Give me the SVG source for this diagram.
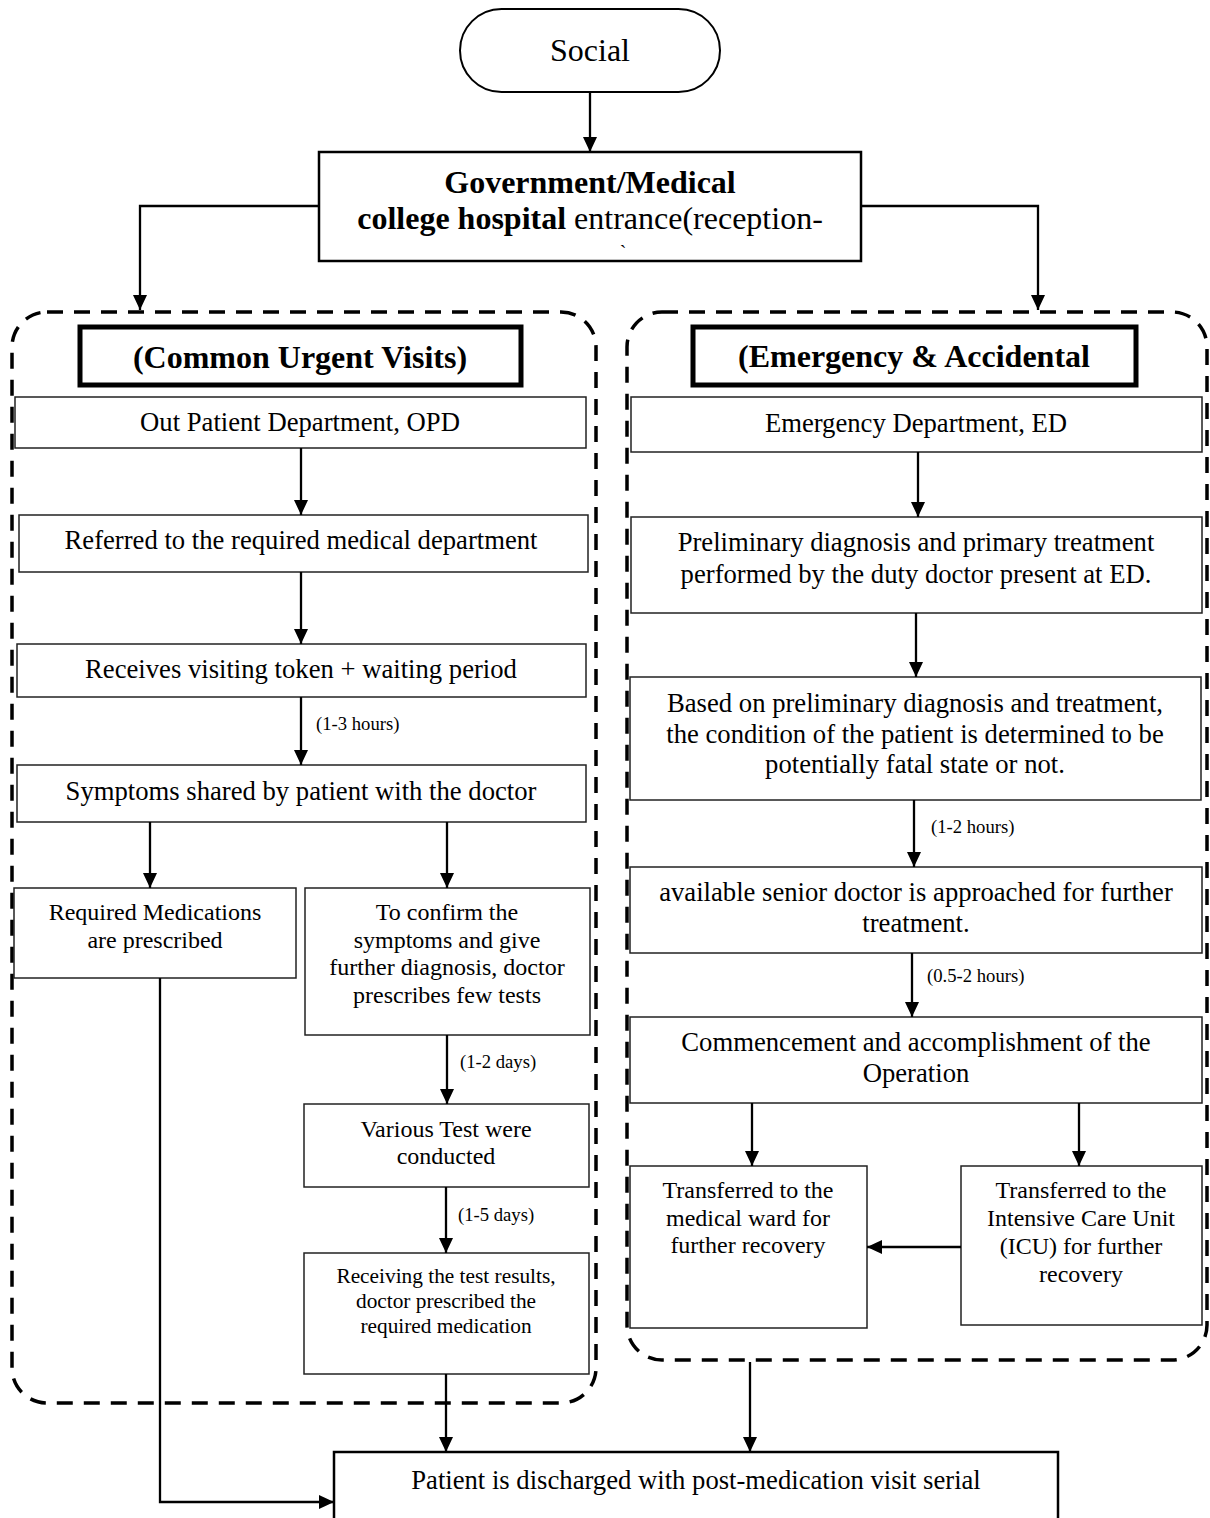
<svg xmlns="http://www.w3.org/2000/svg" width="1210" height="1518" viewBox="0 0 1210 1518">
<defs>
<style>
.box{fill:#fff;stroke:#222;stroke-width:1.5}
.t{font-family:"Liberation Serif","Times New Roman",serif;fill:#000;text-anchor:middle}
.f26{font-size:26.67px}
.f24{font-size:24px}
.f21{font-size:21.33px}
.f32{font-size:32px}
.bold{font-weight:bold}
.lbl{font-family:"Liberation Serif","Times New Roman",serif;font-size:18.67px;fill:#000;text-anchor:start}
.conn{stroke:#000;stroke-width:2.3;fill:none}
.dash{fill:none;stroke:#000;stroke-width:3.5;stroke-dasharray:16 11}
.hdr{fill:#fff;stroke:#000;stroke-width:5}
</style>
<marker id="arr" viewBox="0 0 15 14" refX="15" refY="7" markerWidth="15" markerHeight="14" markerUnits="userSpaceOnUse" orient="auto">
<path d="M0,0 L15,7 L0,14 z" fill="#000"/>
</marker>
</defs>
<rect width="1210" height="1518" fill="#fff"/>

<g id="containers">
<rect id="left-container" class="dash" x="12" y="312" width="584" height="1091" rx="35" ry="35"/>
<rect id="right-container" class="dash" x="627" y="312" width="580" height="1048" rx="35" ry="35"/>
</g>

<g id="social">
<rect x="460" y="9" width="260" height="83" rx="41.5" ry="41.5" fill="#fff" stroke="#000" stroke-width="2"/>
<text class="t f32" x="590" y="61">Social</text>
</g>

<g id="gov">
<rect x="319" y="152" width="542" height="109" fill="#fff" stroke="#000" stroke-width="2.5"/>
<text class="t f32 bold" x="590" y="193">Government/Medical</text>
<text class="t f32" x="590" y="229"><tspan font-weight="bold">college hospital</tspan> entrance(reception-</text>
<text class="t" x="623" y="260" font-size="20px">`</text>
</g>

<g id="hdr-left">
<rect class="hdr" x="80" y="327" width="441" height="58"/>
<text class="t f32 bold" x="300" y="368">(Common Urgent Visits)</text>
</g>
<g id="hdr-right">
<rect class="hdr" x="693" y="327" width="443" height="58"/>
<text class="t f32 bold" x="914" y="367">(Emergency &amp; Accidental</text>
</g>

<g id="opd">
<rect class="box" x="15" y="397" width="571" height="51"/>
<text class="t f26" x="300" y="431">Out Patient Department, OPD</text>
</g>
<g id="referred">
<rect class="box" x="19" y="515" width="569" height="57"/>
<text class="t f26" x="301" y="549">Referred to the required medical department</text>
</g>
<g id="token">
<rect class="box" x="17" y="644" width="569" height="53"/>
<text class="t f26" x="301" y="678">Receives visiting token + waiting period</text>
</g>
<g id="symptoms">
<rect class="box" x="17" y="765" width="569" height="57"/>
<text class="t f26" x="301" y="800">Symptoms shared by patient with the doctor</text>
</g>
<g id="medications">
<rect class="box" x="14" y="888" width="282" height="90"/>
<text class="t f24" x="155" y="920">Required Medications</text>
<text class="t f24" x="155" y="948">are prescribed</text>
</g>
<g id="confirm">
<rect class="box" x="305" y="888" width="285" height="147"/>
<text class="t f24" x="447" y="920">To confirm the</text>
<text class="t f24" x="447" y="948">symptoms and give</text>
<text class="t f24" x="447" y="975">further diagnosis, doctor</text>
<text class="t f24" x="447" y="1003">prescribes few tests</text>
</g>
<g id="tests">
<rect class="box" x="304" y="1104" width="285" height="83"/>
<text class="t f24" x="446" y="1137">Various Test were</text>
<text class="t f24" x="446" y="1164">conducted</text>
</g>
<g id="results">
<rect class="box" x="304" y="1253" width="285" height="121"/>
<text class="t f21" x="446" y="1283">Receiving the test results,</text>
<text class="t f21" x="446" y="1308">doctor prescribed the</text>
<text class="t f21" x="446" y="1333">required medication</text>
</g>

<g id="ed">
<rect class="box" x="631" y="397" width="571" height="55"/>
<text class="t f26" x="916" y="432">Emergency Department, ED</text>
</g>
<g id="preliminary">
<rect class="box" x="631" y="517" width="571" height="96"/>
<text class="t f26" x="916" y="551">Preliminary diagnosis and primary treatment</text>
<text class="t f26" x="916" y="583">performed by the duty doctor present at ED.</text>
</g>
<g id="based">
<rect class="box" x="630" y="677" width="571" height="123"/>
<text class="t f26" x="915" y="712">Based on preliminary diagnosis and treatment,</text>
<text class="t f26" x="915" y="743">the condition of the patient is determined to be</text>
<text class="t f26" x="915" y="773">potentially fatal state or not.</text>
</g>
<g id="senior">
<rect class="box" x="630" y="867" width="572" height="86"/>
<text class="t f26" x="916" y="901">available senior doctor is approached for further</text>
<text class="t f26" x="916" y="932">treatment.</text>
</g>
<g id="operation">
<rect class="box" x="630" y="1017" width="572" height="86"/>
<text class="t f26" x="916" y="1051">Commencement and accomplishment of the</text>
<text class="t f26" x="916" y="1082">Operation</text>
</g>
<g id="ward">
<rect class="box" x="630" y="1166" width="237" height="162"/>
<text class="t f24" x="748" y="1198">Transferred to the</text>
<text class="t f24" x="748" y="1226">medical ward for</text>
<text class="t f24" x="748" y="1253">further recovery</text>
</g>
<g id="icu">
<rect class="box" x="961" y="1166" width="241" height="159"/>
<text class="t f24" x="1081" y="1198">Transferred to the</text>
<text class="t f24" x="1081" y="1226">Intensive Care Unit</text>
<text class="t f24" x="1081" y="1254">(ICU) for further</text>
<text class="t f24" x="1081" y="1282">recovery</text>
</g>

<g id="discharge">
<rect x="334" y="1452" width="724" height="90" fill="#fff" stroke="#000" stroke-width="2.5"/>
<text class="t f26" x="696" y="1489">Patient is discharged with post-medication visit serial</text>
</g>

<g id="connectors">
<path class="conn" d="M590,92 L590,152" marker-end="url(#arr)"/>
<path class="conn" d="M319,206 L140,206 L140,310" marker-end="url(#arr)"/>
<path class="conn" d="M861,206 L1038,206 L1038,310" marker-end="url(#arr)"/>
<path class="conn" d="M301,448 L301,515" marker-end="url(#arr)"/>
<path class="conn" d="M301,572 L301,644" marker-end="url(#arr)"/>
<path class="conn" d="M301,697 L301,765" marker-end="url(#arr)"/>
<path class="conn" d="M150,822 L150,888" marker-end="url(#arr)"/>
<path class="conn" d="M447,822 L447,888" marker-end="url(#arr)"/>
<path class="conn" d="M447,1035 L447,1104" marker-end="url(#arr)"/>
<path class="conn" d="M446,1187 L446,1253" marker-end="url(#arr)"/>
<path class="conn" d="M446,1374 L446,1452" marker-end="url(#arr)"/>
<path class="conn" d="M160,978 L160,1502 L334,1502" marker-end="url(#arr)"/>
<path class="conn" d="M918,452 L918,517" marker-end="url(#arr)"/>
<path class="conn" d="M916,613 L916,677" marker-end="url(#arr)"/>
<path class="conn" d="M914,800 L914,867" marker-end="url(#arr)"/>
<path class="conn" d="M912,953 L912,1017" marker-end="url(#arr)"/>
<path class="conn" d="M752,1103 L752,1166" marker-end="url(#arr)"/>
<path class="conn" d="M1079,1103 L1079,1166" marker-end="url(#arr)"/>
<path class="conn" d="M961,1247 L867,1247" marker-end="url(#arr)"/>
<path class="conn" d="M750,1362 L750,1452" marker-end="url(#arr)"/>
<text class="lbl" x="316" y="730">(1-3 hours)</text>
<text class="lbl" x="460" y="1068">(1-2 days)</text>
<text class="lbl" x="458" y="1221">(1-5 days)</text>
<text class="lbl" x="931" y="833">(1-2 hours)</text>
<text class="lbl" x="927" y="982">(0.5-2 hours)</text>
</g>
</svg>
